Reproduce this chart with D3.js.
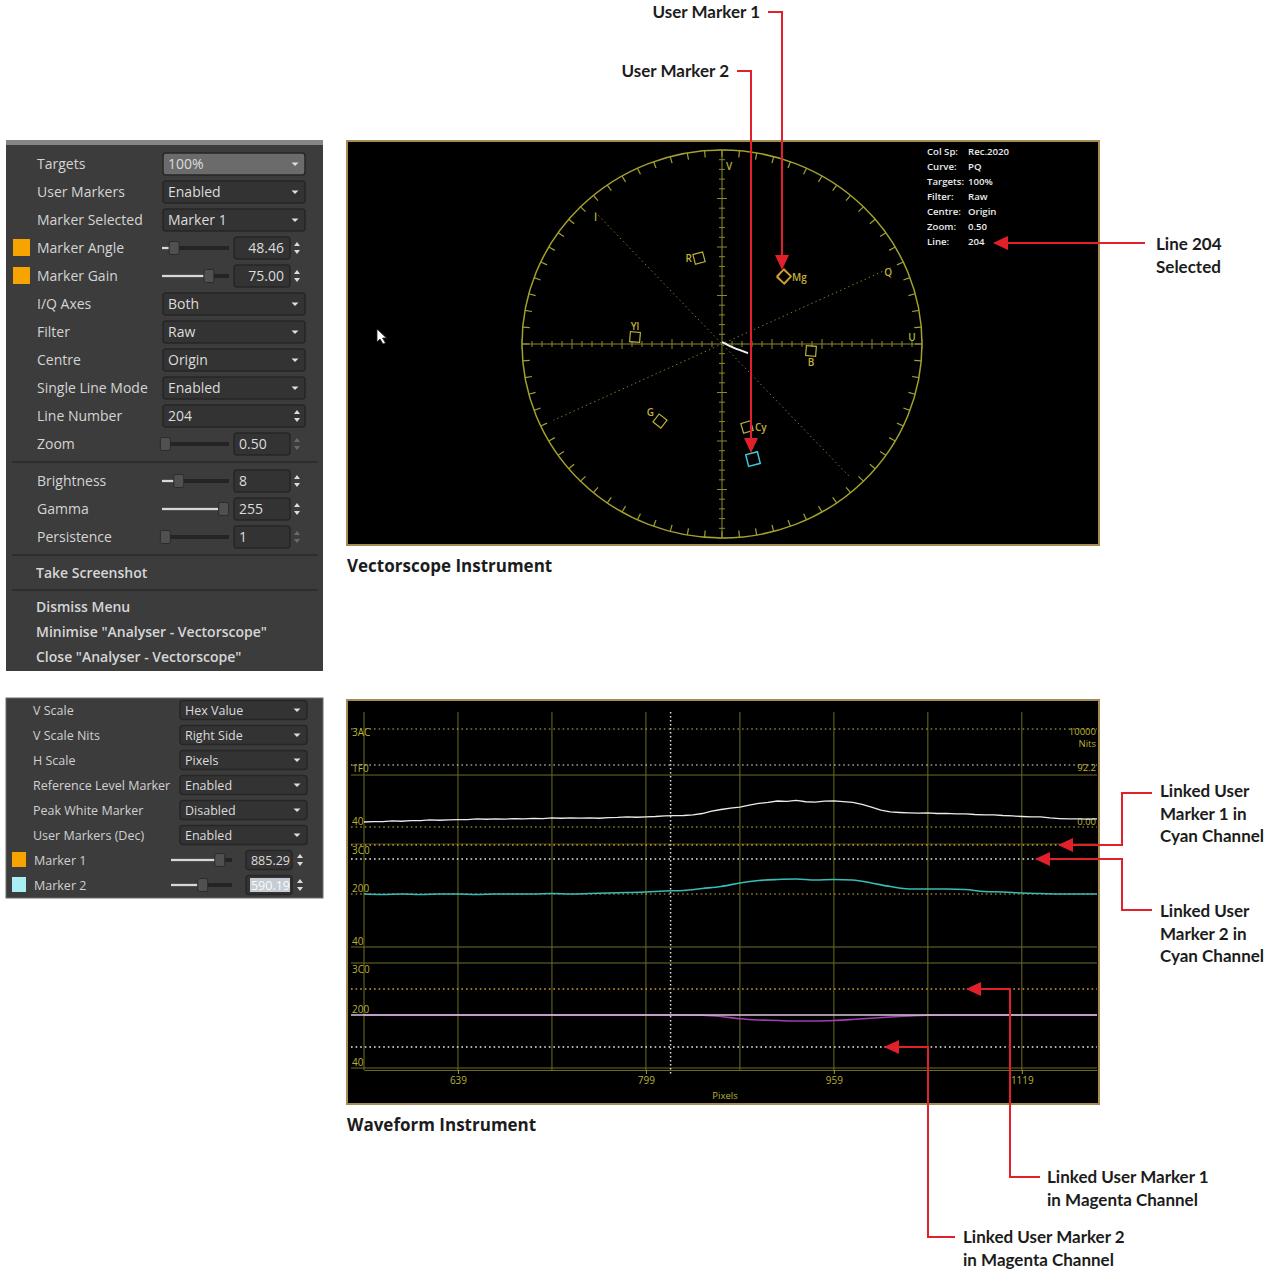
<!DOCTYPE html>
<html>
<head>
<meta charset="utf-8">
<script src="https://cdn.jsdelivr.net/npm/d3@7"></script>
<style>
body { margin: 0; background: #fff; }
svg text { font-family: "Open Sans", sans-serif; }
.note { font-family: Lato, "Open Sans", sans-serif; font-weight: 700; font-size: 17px; fill: #1c1c1c; }
.caption { font-family: "Open Sans", sans-serif; font-weight: 700; font-size: 17px; fill: #1c1c1c; }
</style>
</head>
<body>
<svg id="chart" width="1282" height="1272"></svg>
<script>
// ---- menu data ----
var menuLabels = ["Targets", "User Markers", "Marker Selected", "Marker Angle", "Marker Gain", "I/Q Axes", "Filter", "Centre", "Single Line Mode", "Line Number", "Zoom", "Brightness", "Gamma", "Persistence"];
var menuValues = ["100%", "Enabled", "Marker 1", "48.46", "75.00", "Both", "Raw", "Origin", "Enabled", "204", "0.50", "8", "255", "1"];
var menuKinds = ["drop", "drop", "drop", "sliderR", "sliderR", "drop", "drop", "drop", "drop", "spin", "slider", "slider", "slider", "slider"];
var menuSlider = [0, 0, 0, 0.18, 0.7, 0, 0, 0, 0, 0, 0.05, 0.25, 0.92, 0.05];
var menuActions = ["Take Screenshot", "Dismiss Menu", "Minimise \"Analyser - Vectorscope\"", "Close \"Analyser - Vectorscope\""];
var dimmedSpins = ["Zoom", "Persistence"];

var wfLabels = ["V Scale", "V Scale Nits", "H Scale", "Reference Level Marker", "Peak White Marker", "User Markers (Dec)", "Marker 1", "Marker 2"];
var wfValues = ["Hex Value", "Right Side", "Pixels", "Enabled", "Disabled", "Enabled", "885.29", "590.19"];
var wfSlider = [0, 0, 0, 0, 0, 0, 0.8, 0.52];

// ---- vectorscope data ----
var infoKeys = ["Col Sp:", "Curve:", "Targets:", "Filter:", "Centre:", "Zoom:", "Line:"];
var infoVals = ["Rec.2020", "PQ", "100%", "Raw", "Origin", "0.50", "204"];
var targetNames = ["R", "Mg", "B", "Yl", "G", "Cy"];
var targetU = [-0.115, 0.31, 0.445, -0.435, -0.31, 0.125];
var targetV = [0.443, 0.345, -0.036, 0.036, -0.397, -0.428];
var targetLabelSide = ["left", "right", "below", "above", "upleft", "right"];
var marker1UV = [0.31, 0.35];
var marker2UV = [0.155, -0.593];
var traceU = [0.0, 0.02, 0.05, 0.09, 0.13];
var traceV = [0.01, 0.0, -0.016, -0.032, -0.047];
var iAngle = 133, qAngle = 25;

// ---- waveform data ----
var lumaLevels = [940, 496, 64];
var lumaLabels = ["3AC", "1F0", "40"];
var lumaNits = [["10000", "Nits"], ["92.2"], ["0.00"]];
var lumaGrid = [426];
var chromaLevels = [960, 512, 64];
var chromaLabels = ["3C0", "200", "40"];
var cyanMarkers = [951, 826];
var magentaMarkers = [736, 242];
var pixelTicks = [639, 799, 959, 1119];
var pixelGrid = [559, 639, 719, 799, 879, 959, 1039, 1119];
var cursorPixel = 820;
var lumaPixels = [559, 567, 575, 583, 591, 599, 607, 615, 623, 631, 639, 647, 655, 663, 671, 679, 687, 695, 703, 711, 719, 727, 735, 743, 751, 759, 767, 775, 783, 791, 799, 807, 815, 823, 831, 839, 847, 855, 863, 871, 879, 887, 895, 903, 911, 919, 927, 935, 943, 951, 959, 967, 975, 983, 991, 999, 1007, 1015, 1023, 1031, 1039, 1047, 1055, 1063, 1071, 1079, 1087, 1095, 1103, 1111, 1119, 1127, 1135, 1143, 1151, 1159, 1167, 1175, 1183];
var lumaTrace = [99, 101, 102, 106, 104, 109, 108, 113, 111, 114, 116, 115, 120, 118, 121, 119, 123, 121, 124, 122, 127, 125, 128, 126, 127, 125, 130, 131, 134, 132, 135, 137, 141, 143, 144, 148, 158, 175, 186, 196, 203, 217, 228, 235, 245, 242, 249, 240, 238, 244, 246, 241, 235, 221, 203, 182, 169, 165, 162, 160, 163, 158, 159, 155, 156, 151, 148, 149, 144, 141, 137, 134, 135, 127, 123, 120, 121, 119, 120];
var chromaPixels = lumaPixels.filter(function(d, i) { return i % 2 === 0; });
var cyanTrace = [512, 508, 512, 508, 512, 512, 508, 512, 512, 512, 516, 512, 516, 521, 525, 530, 539, 543, 561, 579, 611, 633, 642, 646, 637, 642, 637, 611, 579, 557, 557, 557, 552, 534, 530, 521, 516, 512, 512, 512];
var magentaTrace = [512, 512, 512, 512, 512, 512, 512, 512, 512, 512, 512, 512, 512, 512, 512, 512, 512, 512, 510, 499, 480, 470, 466, 461, 461, 465, 474, 485, 495, 503, 510, 512, 512, 512, 512, 512, 512, 512, 512, 512];

var red = "#e2202b";
var olive = "#6e6e22";
var scopeYellow = "#b9b236";

var svg = d3.select("#chart");
svg.append("rect").attr("width", 1282).attr("height", 1272).attr("fill", "#fff");

// ------------------
// Widgets
// ------------------
function downArrow(g, x, y, col) {
  g.append("path").attr("d", "M" + (x - 3.5) + "," + (y - 1.5) + "L" + (x + 3.5) + "," + (y - 1.5) + "L" + x + "," + (y + 2) + "Z").attr("fill", col || "#ddd");
}
function spinArrows(g, x, y, col) {
  g.append("path").attr("d", "M" + (x - 3) + "," + (y - 2) + "L" + (x + 3) + "," + (y - 2) + "L" + x + "," + (y - 6) + "Z").attr("fill", col);
  g.append("path").attr("d", "M" + (x - 3) + "," + (y + 2) + "L" + (x + 3) + "," + (y + 2) + "L" + x + "," + (y + 6) + "Z").attr("fill", col);
}
function box(g, x, y, w, h, fill) {
  g.append("rect").attr("x", x).attr("y", y - h / 2).attr("width", w).attr("height", h).attr("rx", 3)
    .attr("fill", fill || "#333").attr("stroke", "#262626").attr("stroke-width", 1.5);
}
function slider(g, x0, x1, y, frac) {
  var kx = x0 + (x1 - x0) * frac;
  g.append("line").attr("x1", x0).attr("x2", x1).attr("y1", y).attr("y2", y).attr("stroke", "#242424").attr("stroke-width", 4);
  g.append("line").attr("x1", x0).attr("x2", kx).attr("y1", y).attr("y2", y).attr("stroke", "#d8d8d8").attr("stroke-width", 2.5);
  g.append("rect").attr("x", kx - 5).attr("y", y - 6.5).attr("width", 10).attr("height", 13).attr("rx", 2)
    .attr("fill", "#505050").attr("stroke", "#2a2a2a");
}

// Vectorscope settings menu
var menu = svg.append("g");
menu.append("rect").attr("x", 6).attr("y", 140).attr("width", 317).attr("height", 531).attr("fill", "#3c3c3c");
menu.append("rect").attr("x", 6).attr("y", 140).attr("width", 317).attr("height", 5).attr("fill", "#858585");

function rowY(i) { return i < 11 ? 164 + i * 28 : 481 + (i - 11) * 28; }

menuLabels.forEach(function(lab, i) {
  var y = rowY(i), kind = menuKinds[i], val = menuValues[i];
  menu.append("text").attr("x", 37).attr("y", y + 5).attr("font-size", 14).attr("fill", "#d4d4d4").text(lab);
  if (kind === "drop") {
    box(menu, 163, y, 142, 22, i === 0 ? "#6b6b6b" : "#333");
    menu.append("text").attr("x", 168).attr("y", y + 5).attr("font-size", 14).attr("fill", "#dcdcdc").text(val);
    downArrow(menu, 295, y);
  } else if (kind === "spin") {
    box(menu, 163, y, 142, 22);
    menu.append("text").attr("x", 168).attr("y", y + 5).attr("font-size", 14).attr("fill", "#dcdcdc").text(val);
    spinArrows(menu, 297, y, "#ddd");
  } else {
    slider(menu, 162, 229, y, menuSlider[i]);
    box(menu, 234, y, 56, 22);
    var t = menu.append("text").attr("y", y + 5).attr("font-size", 14).attr("fill", "#dcdcdc").text(val);
    if (kind === "sliderR") t.attr("x", 284).attr("text-anchor", "end");
    else t.attr("x", 239);
    spinArrows(menu, 297, y, dimmedSpins.indexOf(lab) >= 0 ? "#6a6a6a" : "#ddd");
  }
  if (lab === "Marker Angle" || lab === "Marker Gain") {
    menu.append("rect").attr("x", 13).attr("y", y - 9).attr("width", 17).attr("height", 17).attr("fill", "#f7a300");
  }
});
[462, 555, 590].forEach(function(y) {
  menu.append("line").attr("x1", 12).attr("x2", 318).attr("y1", y).attr("y2", y).attr("stroke", "#2a2a2a").attr("stroke-width", 1.5);
});
[573, 607, 632, 657].forEach(function(y, i) {
  menu.append("text").attr("x", 36).attr("y", y + 5).attr("font-size", 14).attr("font-weight", 600).attr("fill", "#d6d6d6").text(menuActions[i]);
});

// Waveform settings menu
var wmenu = svg.append("g");
wmenu.append("rect").attr("x", 6).attr("y", 698).attr("width", 317).attr("height", 200).attr("fill", "#3c3c3c").attr("stroke", "#6a6a6a");
wfLabels.forEach(function(lab, i) {
  var y = 710 + i * 25;
  wmenu.append("text").attr("x", i < 6 ? 33 : 34).attr("y", y + 4.5).attr("font-size", 12.5).attr("fill", "#d0d0d0").text(lab);
  if (i < 6) {
    box(wmenu, 180, y, 127, 19);
    wmenu.append("text").attr("x", 185).attr("y", y + 4.5).attr("font-size", 12.5).attr("fill", "#dcdcdc").text(wfValues[i]);
    downArrow(wmenu, 297, y);
  } else {
    wmenu.append("rect").attr("x", 12).attr("y", y - 8).attr("width", 14).attr("height", 15)
      .attr("fill", i === 6 ? "#f7a300" : "#a8eef4");
    slider(wmenu, 171, 232, y, wfSlider[i]);
    box(wmenu, 246, y, 46, 19);
    if (i === 7) wmenu.append("rect").attr("x", 250).attr("y", y - 7).attr("width", 40).attr("height", 14).attr("fill", "#c5ccd3");
    wmenu.append("text").attr("x", 290).attr("y", y + 4.5).attr("text-anchor", "end").attr("font-size", 12.5)
      .attr("fill", i === 7 ? "#fafafa" : "#dcdcdc").text(wfValues[i]);
    spinArrows(wmenu, 300, y, "#ddd");
  }
});

// ------------------
// Vectorscope
// ------------------
var vs = svg.append("g");
vs.append("rect").attr("x", 347).attr("y", 141).attr("width", 752).attr("height", 404).attr("fill", "#000")
  .attr("stroke", "#a88a55").attr("stroke-width", 2);
var cx = 722, cy = 344, rx = 200, ry = 194;
var u = d3.scaleLinear().domain([-1, 1]).range([cx - rx, cx + rx]);
var v = d3.scaleLinear().domain([-1, 1]).range([cy + ry, cy - ry]);
function polar(r, deg) { var a = deg * Math.PI / 180; return [u(r * Math.cos(a)), v(r * Math.sin(a))]; }

vs.append("ellipse").attr("cx", u(0)).attr("cy", v(0)).attr("rx", u(1) - u(0)).attr("ry", v(0) - v(1))
  .attr("fill", "none").attr("stroke", "#a3a02e").attr("stroke-width", 1.5);
d3.range(0, 360, 5).forEach(function(a) {
  var p0 = polar(1, a), p1 = polar(0.965, a);
  vs.append("line").attr("x1", p0[0]).attr("y1", p0[1]).attr("x2", p1[0]).attr("y2", p1[1]).attr("stroke", "#a3a02e").attr("stroke-width", 1.2);
});
// axes
vs.append("line").attr("x1", u(-1)).attr("x2", u(1)).attr("y1", v(0)).attr("y2", v(0)).attr("stroke", "#8c8a2a");
vs.append("line").attr("x1", u(0)).attr("x2", u(0)).attr("y1", v(1)).attr("y2", v(-1)).attr("stroke", "#8c8a2a");
d3.range(-20, 21).forEach(function(k) {
  if (k === 0) return;
  var len = k % 5 === 0 ? 5 : 3;
  vs.append("line").attr("x1", u(k / 20)).attr("x2", u(k / 20)).attr("y1", v(0) - len).attr("y2", v(0) + len).attr("stroke", "#8c8a2a");
  vs.append("line").attr("y1", v(k / 20)).attr("y2", v(k / 20)).attr("x1", u(0) - len).attr("x2", u(0) + len).attr("stroke", "#8c8a2a");
});
// I/Q axes
[iAngle, qAngle].forEach(function(a) {
  var p0 = polar(0.93, a), p1 = polar(0.93, a + 180);
  vs.append("line").attr("x1", p0[0]).attr("y1", p0[1]).attr("x2", p1[0]).attr("y2", p1[1])
    .attr("stroke", "#7d7b2a").attr("stroke-width", 1).attr("stroke-dasharray", "1.5,3");
});
var axisLab = [["V", u(0) + 7, v(0.92)], ["U", u(0.95), v(0.035)], ["I"].concat(polar(0.91, iAngle + 1)), ["Q"].concat(polar(0.91, qAngle - 1))];
axisLab.forEach(function(d) {
  vs.append("text").attr("x", d[1]).attr("y", d[2] + 4).attr("text-anchor", "middle").attr("font-size", 10).attr("font-weight", 600)
    .attr("fill", scopeYellow).text(d[0]);
});

// colour targets
targetNames.forEach(function(name, i) {
  var x = u(targetU[i]), y = v(targetV[i]);
  var ang = Math.atan2(targetV[i], targetU[i]) * 180 / Math.PI;
  vs.append("rect").attr("x", -5).attr("y", -5).attr("width", 10).attr("height", 10)
    .attr("transform", "translate(" + x + "," + y + ") rotate(" + (-ang) + ")")
    .attr("fill", "none").attr("stroke", "#bcb03a").attr("stroke-width", 1.2);
  var side = targetLabelSide[i], lx = x, ly = y + 4, anchor = "middle";
  if (side === "left") { lx = x - 7; anchor = "end"; }
  if (side === "right") { lx = x + 8; anchor = "start"; }
  if (side === "below") { ly = y + 15; }
  if (side === "above") { ly = y - 7; }
  if (side === "upleft") { lx = x - 6; ly = y - 5; anchor = "end"; }
  vs.append("text").attr("x", lx).attr("y", ly).attr("text-anchor", anchor).attr("font-size", 10).attr("font-weight", 600)
    .attr("fill", "#c0b23a").text(name);
});
// user markers
var m1 = [u(marker1UV[0]), v(marker1UV[1])];
vs.append("rect").attr("x", -5).attr("y", -5).attr("width", 10).attr("height", 10)
  .attr("transform", "translate(" + m1[0] + "," + m1[1] + ") rotate(45)")
  .attr("fill", "none").attr("stroke", "#e0962c").attr("stroke-width", 1.3);
var m2 = [u(marker2UV[0]), v(marker2UV[1])];
vs.append("rect").attr("x", -6).attr("y", -6).attr("width", 12).attr("height", 12)
  .attr("transform", "translate(" + m2[0] + "," + m2[1] + ") rotate(-14)")
  .attr("fill", "none").attr("stroke", "#3ec6d2").attr("stroke-width", 1.5);
// single line trace
vs.append("path").attr("d", d3.line().x(function(d) { return u(d); }).y(function(d, i) { return v(traceV[i]); }).curve(d3.curveBasis)(traceU))
  .attr("fill", "none").attr("stroke", "#f2f2f2").attr("stroke-width", 2);
// mouse pointer
vs.append("path").attr("d", "M0,0 L0,13 L3,10 L6,15 L8.5,14 L5.5,9 L9.5,9 Z").attr("transform", "translate(377,329)")
  .attr("fill", "#fff").attr("stroke", "#222").attr("stroke-width", 0.8);
// info block
infoKeys.forEach(function(k, i) {
  var y = 155 + i * 15;
  vs.append("text").attr("x", 927).attr("y", y).attr("font-size", 9.6).attr("font-weight", 600).attr("fill", "#ececec").text(k);
  vs.append("text").attr("x", 968).attr("y", y).attr("font-size", 9.6).attr("font-weight", 600).attr("fill", "#ececec").text(infoVals[i]);
});

// ------------------
// Waveform
// ------------------
var wf = svg.append("g");
wf.append("rect").attr("x", 347).attr("y", 700).attr("width", 752).attr("height", 404).attr("fill", "#000")
  .attr("stroke", "#a88a55").attr("stroke-width", 2);
var xw = d3.scaleLinear().domain([559, 1183]).range([364, 1097]);
var yLuma = d3.scaleLinear().domain([64, 496, 940]).range([827, 765, 729]);
var yCyan = d3.scaleLinear().domain([64, 512, 960]).range([947, 894, 844]);
var yMag = d3.scaleLinear().domain([64, 512, 960]).range([1068, 1015, 963]);

pixelGrid.forEach(function(p) {
  wf.append("line").attr("x1", xw(p)).attr("x2", xw(p)).attr("y1", 712).attr("y2", 1070).attr("stroke", olive).attr("stroke-width", 1);
});
function hline(y, col, dashed, w) {
  var l = wf.append("line").attr("x1", 351).attr("x2", 1097).attr("y1", y).attr("y2", y).attr("stroke", col).attr("stroke-width", w || 1.2);
  if (dashed) l.attr("stroke-dasharray", "1.6,3");
}
// luma channel levels
lumaGrid.forEach(function(c) { hline(yLuma(c), olive, false, 1); });
lumaLevels.forEach(function(c, i) { hline(yLuma(c), i === 1 ? "#e6e6e6" : "#c9b63c", true); });
// chroma channels
[yCyan, yMag].forEach(function(sc, ch) {
  hline(sc(960), ch === 0 ? "#4a4a1a" : olive, false, 1);
  if (ch === 0) hline(sc(512), "#c9b63c", true);
  hline(sc(64), olive, false, 1);
});
// linked user markers
[[yCyan, cyanMarkers], [yMag, magentaMarkers]].forEach(function(d) {
  hline(d[0](d[1][0]), "#d49c32", true, 1.4);
  hline(d[0](d[1][1]), "#e8e8e8", true, 1.4);
});
// left hex labels
var hexLab = [];
lumaLevels.forEach(function(c, i) { hexLab.push([lumaLabels[i], yLuma(c) + (i < 2 ? 7 : -2)]); });
[yCyan, yMag].forEach(function(sc) {
  chromaLevels.forEach(function(c, i) { hexLab.push([chromaLabels[i], sc(c) + (i === 0 ? 10 : -2)]); });
});
hexLab.forEach(function(d) {
  wf.append("text").attr("x", 352).attr("y", d[1]).attr("font-size", 10).attr("fill", scopeYellow).text(d[0]);
});
// right nits labels
lumaLevels.forEach(function(c, i) {
  lumaNits[i].forEach(function(t, j) {
    wf.append("text").attr("x", 1096).attr("y", yLuma(c) + (i === 2 ? -2 : 6) + j * 12).attr("text-anchor", "end")
      .attr("font-size", 9.5).attr("fill", scopeYellow).text(t);
  });
});
// cursor line
wf.append("line").attr("x1", xw(cursorPixel)).attr("x2", xw(cursorPixel)).attr("y1", 712).attr("y2", 1074)
  .attr("stroke", "#dcdcdc").attr("stroke-width", 1.5).attr("stroke-dasharray", "1.6,2.4");
// traces
wf.append("path").attr("d", d3.line().x(function(d) { return xw(d); }).y(function(d, i) { return yLuma(lumaTrace[i]); })(lumaPixels))
  .attr("fill", "none").attr("stroke", "#ececec").attr("stroke-width", 1.3);
wf.append("path").attr("d", d3.line().x(function(d) { return xw(d); }).y(function(d, i) { return yCyan(cyanTrace[i]); }).curve(d3.curveMonotoneX)(chromaPixels))
  .attr("fill", "none").attr("stroke", "#38bcb8").attr("stroke-width", 1.6);
wf.append("path").attr("d", d3.line().x(function(d) { return xw(d); }).y(function(d, i) { return yMag(magentaTrace[i]); }).curve(d3.curveMonotoneX)(chromaPixels))
  .attr("fill", "none").attr("stroke", "#a23db4").attr("stroke-width", 1.6);
// magenta channel centre line drawn over its trace
hline(yMag(512), "#dcc6dc", false, 1.5);
// pixel axis
var ax = wf.append("g").attr("transform", "translate(0,1070)")
  .call(d3.axisBottom(xw).tickValues(pixelTicks).tickFormat(d3.format("d")).tickSize(4).tickSizeOuter(0));
ax.select(".domain").attr("stroke", olive);
ax.selectAll(".tick line").attr("stroke", "#9a9a3a");
ax.selectAll(".tick text").attr("fill", scopeYellow).attr("font-size", 10).attr("font-family", "Open Sans");
wf.append("text").attr("x", 725).attr("y", 1099).attr("text-anchor", "middle").attr("font-size", 9.5).attr("fill", scopeYellow).text("Pixels");

// ------------------
// Annotations
// ------------------
var notes = svg.append("g");
function redArrow(pts) {
  var n = pts.length, tip = pts[n - 1], prev = pts[n - 2];
  var dx = tip[0] - prev[0], dy = tip[1] - prev[1], len = Math.hypot(dx, dy);
  var ux = dx / len, uy = dy / len, hl = 15, hw = 7;
  var base = [tip[0] - ux * hl, tip[1] - uy * hl];
  notes.append("path").attr("d", d3.line()(pts.slice(0, n - 1).concat([base]))).attr("fill", "none").attr("stroke", red).attr("stroke-width", 2);
  notes.append("path").attr("d", d3.line()([tip, [base[0] - uy * hw, base[1] + ux * hw], [base[0] + uy * hw, base[1] - ux * hw]]) + "Z").attr("fill", red);
}
function noteText(x, yc, lines, anchor, cls) {
  lines.forEach(function(t, i) {
    notes.append("text").attr("class", cls || "note").attr("x", x).attr("y", yc + 6 + i * 22.5).attr("text-anchor", anchor || "start").text(t);
  });
}
noteText(760, 12, ["User Marker 1"], "end");
redArrow([[768, 12], [782, 12], [782, m1[1] - 6]]);
noteText(729, 71, ["User Marker 2"], "end");
redArrow([[737, 71], [751, 71], [751, m2[1] - 6]]);
noteText(1156, 244, ["Line 204", "Selected"]);
redArrow([[1145, 243], [993, 243]]);

noteText(347, 566, ["Vectorscope Instrument"], "start", "caption");
noteText(347, 1125, ["Waveform Instrument"], "start", "caption");

noteText(1160, 791, ["Linked User", "Marker 1 in", "Cyan Channel"]);
redArrow([[1152, 793], [1122, 793], [1122, yCyan(cyanMarkers[0])], [1058, yCyan(cyanMarkers[0])]]);
noteText(1160, 911, ["Linked User", "Marker 2 in", "Cyan Channel"]);
redArrow([[1152, 910], [1122, 910], [1122, yCyan(cyanMarkers[1])], [1035, yCyan(cyanMarkers[1])]]);
noteText(1047, 1177, ["Linked User Marker 1", "in Magenta Channel"]);
redArrow([[1040, 1177], [1010, 1177], [1010, yMag(magentaMarkers[0])], [966, yMag(magentaMarkers[0])]]);
noteText(963, 1237, ["Linked User Marker 2", "in Magenta Channel"]);
redArrow([[955, 1237], [928, 1237], [928, yMag(magentaMarkers[1])], [884, yMag(magentaMarkers[1])]]);
</script>
</body>
</html>
